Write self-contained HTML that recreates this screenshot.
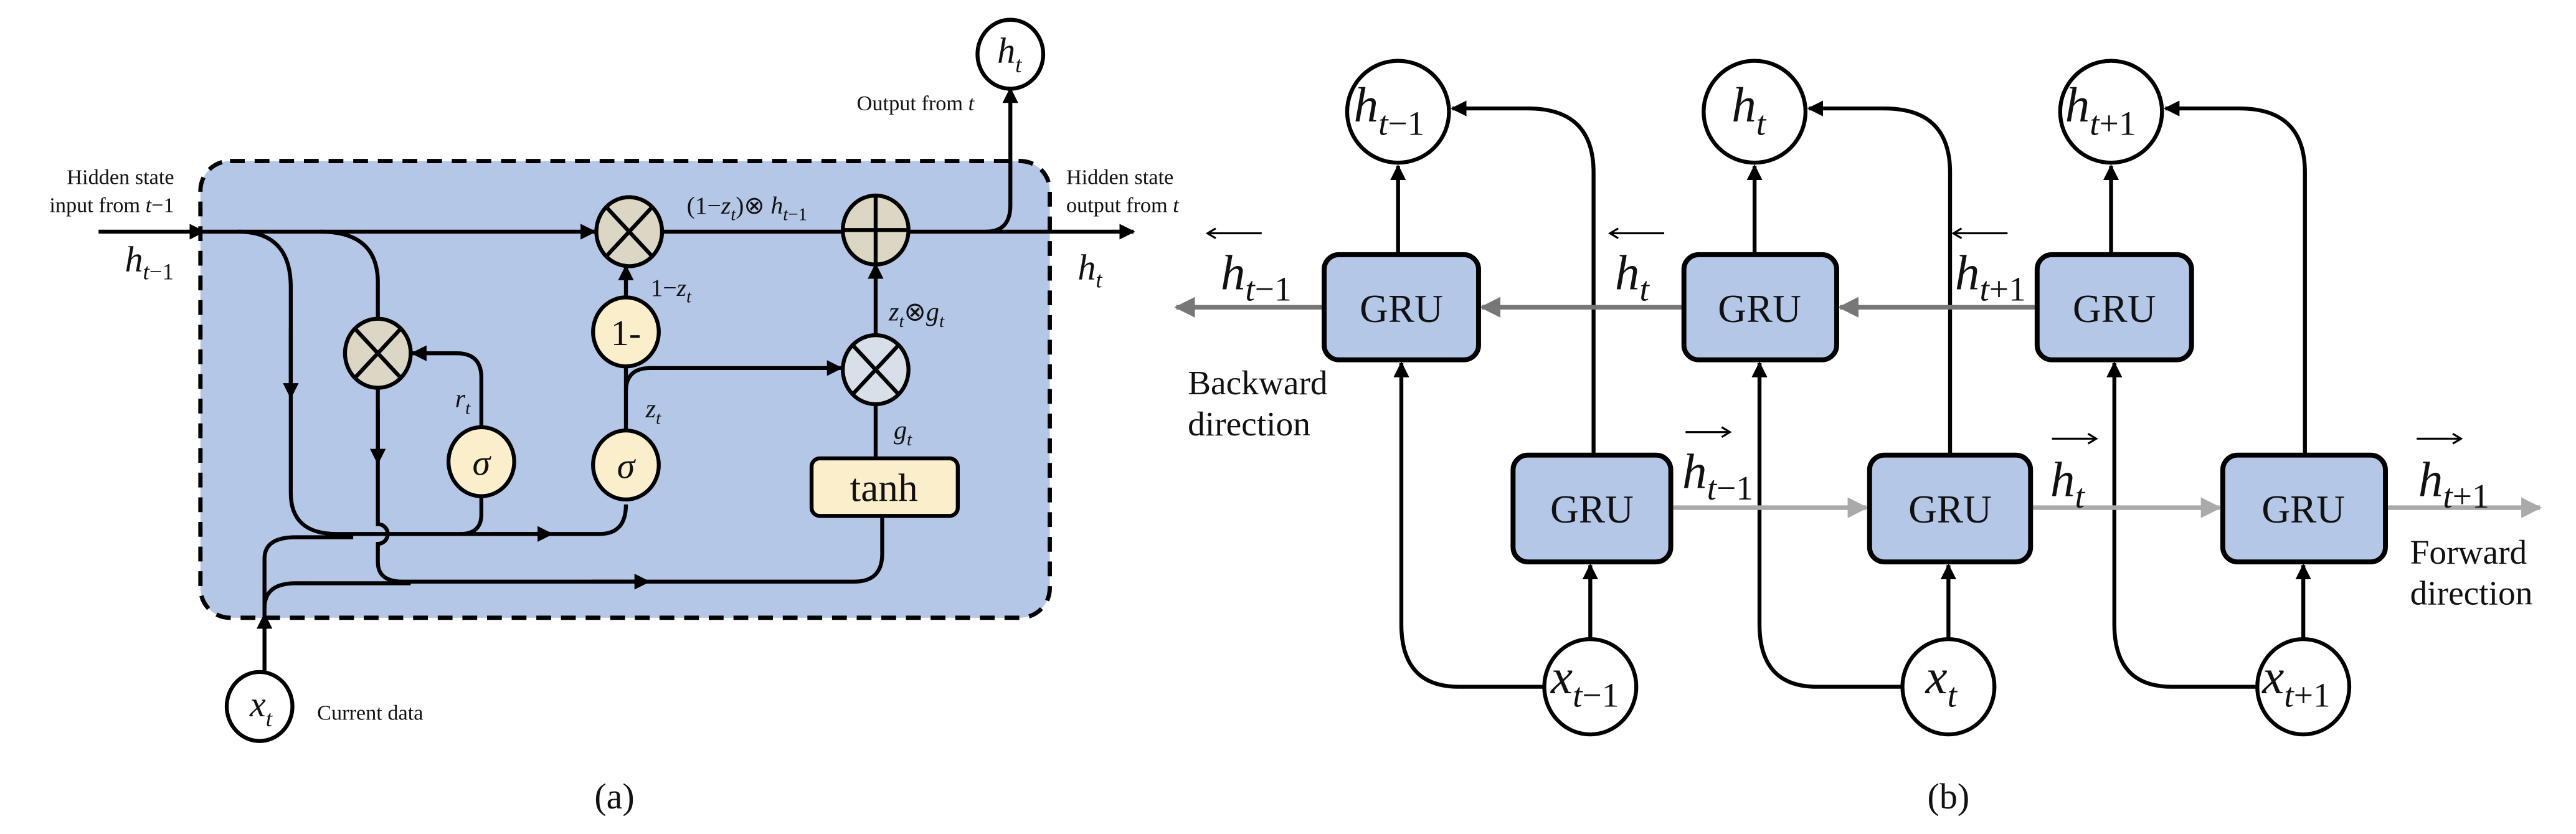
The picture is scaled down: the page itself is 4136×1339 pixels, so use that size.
<!DOCTYPE html>
<html><head><meta charset="utf-8"><style>
html,body{margin:0;padding:0;background:#fff;}
svg{display:block;}
text{font-family:"Liberation Serif",serif;fill:#111;}
.i{font-style:italic;}
</style></head><body>
<svg width="4136" height="1339" viewBox="0 0 1568 507.6" xmlns="http://www.w3.org/2000/svg">
<defs>
<marker id="ab" viewBox="0 0 10 10" refX="9" refY="5" markerWidth="4" markerHeight="4" orient="auto" markerUnits="strokeWidth"><path d="M0,0 L10,5 L0,10 z" fill="#000"/></marker>
<marker id="ag" viewBox="0 0 10 10" refX="9" refY="5" markerWidth="4.5" markerHeight="4.5" orient="auto" markerUnits="strokeWidth"><path d="M0,0 L10,5 L0,10 z" fill="#777"/></marker>
<marker id="al" viewBox="0 0 10 10" refX="9" refY="5" markerWidth="4.5" markerHeight="4.5" orient="auto" markerUnits="strokeWidth"><path d="M0,0 L10,5 L0,10 z" fill="#aaa"/></marker>
<marker id="am" viewBox="0 0 10 10" refX="5" refY="5" markerWidth="4" markerHeight="4" orient="auto" markerUnits="strokeWidth"><path d="M0,0 L10,5 L0,10 z" fill="#000"/></marker>
<marker id="as" viewBox="0 0 10 10" refX="9" refY="5" markerWidth="4" markerHeight="4" orient="auto" markerUnits="strokeWidth"><path d="M0,0 L10,5 L0,10 z" fill="#000"/></marker>
</defs>

<!-- ===== Panel (a) ===== -->
<rect x="122" y="98" width="517" height="278" rx="18" fill="#b4c7e7" stroke="#000" stroke-width="2.6" stroke-dasharray="9,6"/>
<g fill="none" stroke="#000" stroke-width="2.4">
<path d="M60,141 H124" marker-end="url(#ab)"/>
<path d="M124,141 H362" marker-end="url(#ab)"/>
<path d="M403,141 H513"/>
<path d="M553,141 H690" marker-end="url(#ab)"/>
<path d="M145,141 Q177,141 177,175 V300 Q177,325 205,325 H365 Q381,325 381,307"/>
<path d="M177,200 V238" marker-end="url(#am)"/>
<path d="M300,325 H332" marker-end="url(#am)"/>
<path d="M293,302 V313 Q293,325 280,325"/>
<path d="M195,141 Q230,141 230,172 V195"/>
<path d="M230,235 V319 A6,6 0 0 1 230,331 V342 Q230,354 245,354 H520 Q537,354 537,337 V315"/>
<path d="M230,250 V278" marker-end="url(#am)"/>
<path d="M360,354 H391" marker-end="url(#am)"/>
<path d="M161,410 V374" marker-end="url(#as)"/>
<path d="M161,374 V340 Q161,327 180,327 H215"/>
<path d="M161,370 Q161,355 180,355 H250"/>
<path d="M293,262 V230 Q293,215 278,215 H251" marker-end="url(#as)"/>
<path d="M381,262 V222"/>
<path d="M381,238 Q381,224 396,224 H512" marker-end="url(#as)"/>
<path d="M381,182 V162" marker-end="url(#as)"/>
<path d="M533,279 V245"/>
<path d="M533,205 V161" marker-end="url(#as)"/>
<path d="M600,141 Q615,141 615,125 V54" marker-end="url(#as)"/>
</g>
<g stroke="#000" stroke-width="2.4">
<ellipse cx="383" cy="141" rx="20" ry="21" fill="#dcd7c4"/>
<path d="M369,126 L397,156 M397,126 L369,156" fill="none"/>
<ellipse cx="533" cy="140" rx="20" ry="21" fill="#dcd7c4"/>
<path d="M533,119 V161 M513,140 H553" fill="none"/>
<ellipse cx="230" cy="215" rx="20" ry="21" fill="#dcd7c4"/>
<path d="M216,200 L244,230 M244,200 L216,230" fill="none"/>
<ellipse cx="533" cy="225" rx="20" ry="21" fill="#d9dfe9"/>
<path d="M519,210 L547,240 M547,210 L519,240" fill="none"/>
<ellipse cx="381" cy="202" rx="20" ry="21" fill="#fbefcb"/>
<ellipse cx="293" cy="281" rx="20" ry="21" fill="#fbefcb"/>
<ellipse cx="381" cy="283" rx="20" ry="21" fill="#fbefcb"/>
<rect x="494" y="279" width="89" height="35" rx="5" fill="#fbefcb"/>
<ellipse cx="158" cy="430" rx="20" ry="21" fill="#fff"/>
<ellipse cx="615" cy="33" rx="20" ry="21" fill="#fff"/>
</g>
<text x="381" y="210" font-size="22" text-anchor="middle">1-</text>
<text x="293" y="289" font-size="22" text-anchor="middle" class="i">σ</text>
<text x="381" y="291" font-size="22" text-anchor="middle" class="i">σ</text>
<text x="538" y="305" font-size="24" text-anchor="middle">tanh</text>
<text x="152" y="436" font-size="22" class="i">x<tspan font-size="14" dy="6">t</tspan></text>
<text x="607" y="38" font-size="22" class="i">h<tspan font-size="14" dy="6">t</tspan></text>
<text x="193" y="438" font-size="13">Current data</text>
<text x="593" y="67" font-size="13" text-anchor="end">Output from <tspan class="i">t</tspan></text>
<text x="106" y="112" font-size="13" text-anchor="end">Hidden state</text>
<text x="106" y="129" font-size="13" text-anchor="end">input from <tspan class="i">t</tspan>−1</text>
<text x="649" y="112" font-size="13">Hidden state</text>
<text x="649" y="129" font-size="13">output from <tspan class="i">t</tspan></text>
<text x="76" y="165" font-size="22" class="i">h<tspan font-size="14" dy="5">t</tspan><tspan font-size="14" font-style="normal">−1</tspan></text>
<text x="656" y="170" font-size="22" class="i">h<tspan font-size="14" dy="5">t</tspan></text>
<text x="418" y="130" font-size="15">(1−<tspan class="i">z</tspan><tspan class="i" font-size="11" dy="4">t</tspan><tspan dy="-4">)⊗ </tspan><tspan class="i">h</tspan><tspan class="i" font-size="11" dy="4">t</tspan><tspan font-size="11">−1</tspan></text>
<text x="396" y="180" font-size="15">1−<tspan class="i">z</tspan><tspan class="i" font-size="11" dy="4">t</tspan></text>
<text x="541" y="195" font-size="16" class="i">z<tspan font-size="11" dy="4">t</tspan><tspan dy="-4" font-style="normal">⊗</tspan>g<tspan font-size="11" dy="4">t</tspan></text>
<text x="393" y="254" font-size="16" class="i">z<tspan font-size="11" dy="4">t</tspan></text>
<text x="277" y="248" font-size="16" class="i">r<tspan font-size="11" dy="4">t</tspan></text>
<text x="544" y="267" font-size="16" class="i">g<tspan font-size="11" dy="4">t</tspan></text>
<text x="374" y="492" font-size="22" text-anchor="middle">(a)</text>

<!-- ===== Panel (b) ===== -->
<g fill="none" stroke="#000" stroke-width="2.4">
<path d="M851,155 V101" marker-end="url(#as)"/>
<path d="M1068,155 V101" marker-end="url(#as)"/>
<path d="M1285,155 V101" marker-end="url(#as)"/>
<path d="M970,276 V105 Q970,66 930,66 H884" marker-end="url(#as)"/>
<path d="M1187,276 V105 Q1187,66 1147,66 H1101" marker-end="url(#as)"/>
<path d="M1403,276 V105 Q1403,66 1363,66 H1318" marker-end="url(#as)"/>
<path d="M968,390 V344" marker-end="url(#as)"/>
<path d="M1186,390 V344" marker-end="url(#as)"/>
<path d="M1402,390 V344" marker-end="url(#as)"/>
<path d="M940,418 H888 Q853,418 853,380 V221" marker-end="url(#as)"/>
<path d="M1158,418 H1106 Q1071,418 1071,380 V221" marker-end="url(#as)"/>
<path d="M1374,418 H1322 Q1287,418 1287,380 V221" marker-end="url(#as)"/>
</g>
<g fill="none" stroke-width="2.8">
<path d="M1240,187 H1120" stroke="#777" marker-end="url(#ag)"/>
<path d="M1025,187 H902" stroke="#777" marker-end="url(#ag)"/>
<path d="M806,187 H716" stroke="#777" marker-end="url(#ag)"/>
<path d="M1017,309 H1136" stroke="#aaa" marker-end="url(#al)"/>
<path d="M1236,309 H1351" stroke="#aaa" marker-end="url(#al)"/>
<path d="M1452,309 H1546" stroke="#aaa" marker-end="url(#al)"/>
</g>
<g stroke="#000" stroke-width="3" fill="#b4c7e7">
<rect x="806" y="155" width="94" height="64" rx="9"/>
<rect x="1025" y="155" width="93" height="64" rx="9"/>
<rect x="1240" y="155" width="94" height="64" rx="9"/>
<rect x="921" y="277" width="96" height="65" rx="9"/>
<rect x="1138" y="277" width="98" height="65" rx="9"/>
<rect x="1353" y="277" width="99" height="65" rx="9"/>
</g>
<g font-size="24" text-anchor="middle">
<text x="853" y="196">GRU</text><text x="1071" y="196">GRU</text><text x="1287" y="196">GRU</text>
<text x="969" y="318">GRU</text><text x="1187" y="318">GRU</text><text x="1402" y="318">GRU</text>
</g>
<g stroke="#000" stroke-width="2.4" fill="#fff">
<ellipse cx="851" cy="68" rx="31" ry="31"/>
<ellipse cx="1068" cy="68" rx="31" ry="31"/>
<ellipse cx="1285" cy="68" rx="31" ry="31"/>
<ellipse cx="968" cy="418" rx="28" ry="29"/>
<ellipse cx="1186" cy="418" rx="28" ry="29"/>
<ellipse cx="1402" cy="418" rx="28" ry="29"/>
</g>
<g font-size="30" class="i">
<text x="824" y="74">h<tspan font-size="21" dy="8">t</tspan><tspan font-size="21" font-style="normal">−1</tspan></text>
<text x="1054" y="74">h<tspan font-size="21" dy="8">t</tspan></text>
<text x="1257" y="74">h<tspan font-size="21" dy="8">t</tspan><tspan font-size="21" font-style="normal">+1</tspan></text>
<text x="944" y="422">x<tspan font-size="21" dy="8">t</tspan><tspan font-size="21" font-style="normal">−1</tspan></text>
<text x="1172" y="422">x<tspan font-size="21" dy="8">t</tspan></text>
<text x="1377" y="422">x<tspan font-size="21" dy="8">t</tspan><tspan font-size="21" font-style="normal">+1</tspan></text>
<text x="743" y="176">h<tspan font-size="21" dy="7">t</tspan><tspan font-size="21" font-style="normal">−1</tspan></text>
<text x="983" y="176">h<tspan font-size="21" dy="7">t</tspan></text>
<text x="1190" y="176">h<tspan font-size="21" dy="7">t</tspan><tspan font-size="21" font-style="normal">+1</tspan></text>
<text x="1024" y="297">h<tspan font-size="21" dy="7">t</tspan><tspan font-size="21" font-style="normal">−1</tspan></text>
<text x="1248" y="302">h<tspan font-size="21" dy="7">t</tspan></text>
<text x="1472" y="302">h<tspan font-size="21" dy="7">t</tspan><tspan font-size="21" font-style="normal">+1</tspan></text>
</g>
<g fill="none" stroke="#000" stroke-width="1.2">
<path d="M768,142 H735 M740,139 L735,142 L740,145"/>
<path d="M1013,142 H980 M985,139 L980,142 L985,145"/>
<path d="M1222,142 H1189 M1194,139 L1189,142 L1194,145"/>
<path d="M1026,263 H1053 M1048,260 L1053,263 L1048,266"/>
<path d="M1249,267 H1276 M1271,264 L1276,267 L1271,270"/>
<path d="M1471,267 H1498 M1493,264 L1498,267 L1493,270"/>
</g>
<g font-size="21">
<text x="723" y="240">Backward</text>
<text x="723" y="265">direction</text>
<text x="1467" y="343">Forward</text>
<text x="1467" y="368">direction</text>
</g>
<text x="1186" y="492" font-size="22" text-anchor="middle">(b)</text>
</svg>
</body></html>
